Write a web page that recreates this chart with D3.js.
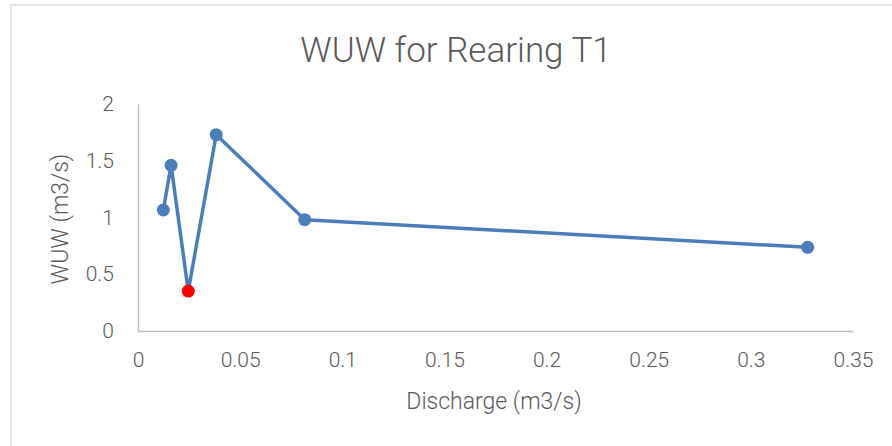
<!DOCTYPE html>
<html>
<head>
<meta charset="utf-8">
<script src="https://cdn.jsdelivr.net/npm/d3@7"></script>
<style>
  body { margin: 0; background: #fff; }
  text { font-family: Roboto, "Open Sans", sans-serif; font-weight: 300; fill: #595959; }
</style>
</head>
<body>
<svg id="chart" width="892" height="446"></svg>
<script>
// values
const discharge = [0.0124, 0.0162, 0.0246, 0.0383, 0.0816, 0.3278];
const wuw = [1.066, 1.46, 0.352, 1.73, 0.981, 0.737];
const highlight = [false, false, true, false, false, false];
const xTicks = [0, 0.05, 0.1, 0.15, 0.2, 0.25, 0.3, 0.35];
const yTicks = [0, 0.5, 1, 1.5, 2];

const svg = d3.select("#chart");

// chart frame
svg.append("rect")
  .attr("x", 11).attr("y", 5)
  .attr("width", 900).attr("height", 460)
  .attr("fill", "none")
  .attr("stroke", "#d9d9d9")
  .attr("stroke-width", 1.5);

const margin = { left: 138, right: 892 - 853, top: 104, bottom: 446 - 331 };
const width = 892 - margin.left - margin.right;
const height = 446 - margin.top - margin.bottom;

const g = svg.append("g").attr("transform", `translate(${margin.left},${margin.top})`);

const x = d3.scaleLinear().domain([0, 0.35]).range([0, width]);
const y = d3.scaleLinear().domain([0, 2]).range([height, 0]);

// x axis
const xAxis = g.append("g")
  .attr("transform", `translate(0,${height})`)
  .call(d3.axisBottom(x).tickValues(xTicks).tickSize(0).tickPadding(21).tickFormat(d => String(d)));
xAxis.select(".domain").attr("stroke", "#bfbfbf").attr("stroke-width", 1.5);
xAxis.selectAll("text").style("font-size", "21px").attr("fill", "#595959");

// y axis
const yAxis = g.append("g")
  .call(d3.axisLeft(y).tickValues(yTicks).tickSize(0).tickPadding(24).tickFormat(d => String(d)));
yAxis.select(".domain").attr("stroke", "#bfbfbf").attr("stroke-width", 1.5);
yAxis.selectAll("text").style("font-size", "21px").attr("fill", "#595959");

// line
const line = d3.line()
  .x((d, i) => x(discharge[i]))
  .y(d => y(d));

g.append("path")
  .datum(wuw)
  .attr("d", line)
  .attr("fill", "none")
  .attr("stroke", "#4a7ebb")
  .attr("stroke-width", 3.5)
  .attr("stroke-linejoin", "round");

g.selectAll("circle")
  .data(wuw)
  .enter().append("circle")
  .attr("cx", (d, i) => x(discharge[i]))
  .attr("cy", d => y(d))
  .attr("r", 6.5)
  .attr("fill", (d, i) => highlight[i] ? "#ff0000" : "#4a7ebb");

// title
svg.append("text")
  .attr("x", 456).attr("y", 62)
  .attr("text-anchor", "middle")
  .style("font-size", "35px")
  .text("WUW for Rearing T1");

// axis titles
svg.append("text")
  .attr("x", 494).attr("y", 409)
  .attr("text-anchor", "middle")
  .style("font-size", "23px")
  .text("Discharge (m3/s)");

svg.append("text")
  .attr("transform", "translate(68,219) rotate(-90)")
  .attr("text-anchor", "middle")
  .style("font-size", "23px")
  .text("WUW (m3/s)");
</script>
</body>
</html>
